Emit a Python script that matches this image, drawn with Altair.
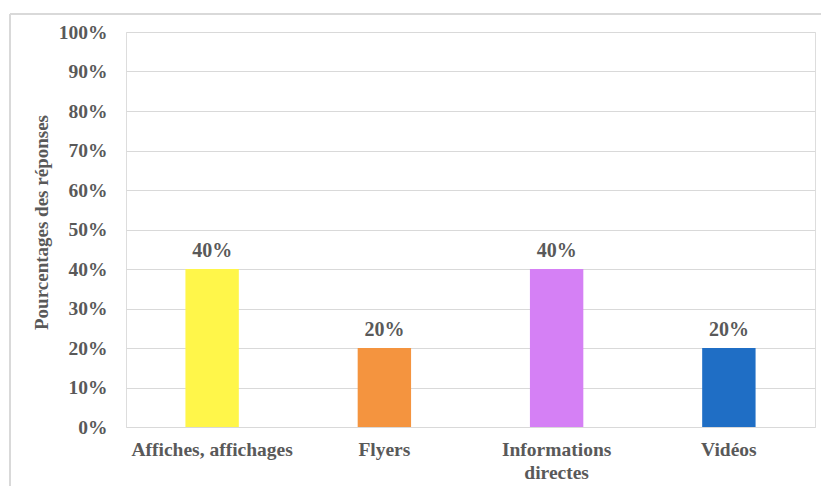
import altair as alt
import pandas as pd

categories = ["Affiches, affichages", "Flyers", "Informations\ndirectes", "Vidéos"]
values = [0.40, 0.20, 0.40, 0.20]
colors = ["#FFF64A", "#F4943F", "#D580F5", "#1F6EC5"]

df = pd.DataFrame({"cat": categories, "val": values, "col": colors})

FONT = "Liberation Serif"
GRAY = "#595959"

x = alt.X("cat:N", sort=categories, title=None,
          scale=alt.Scale(paddingInner=0.69, paddingOuter=0.345),
          axis=alt.Axis(labelAngle=0, labelFont=FONT, labelFontSize=19.5, labelFontWeight="bold",
                        labelColor=GRAY, labelPadding=13, ticks=False, domain=False,
                        labelExpr="split(datum.label, '\\n')", labelLineHeight=23))
y = alt.Y("val:Q", title="Pourcentages des réponses",
          scale=alt.Scale(domain=[0, 1]),
          axis=alt.Axis(format=".0%", values=[i / 10 for i in range(11)],
                        labelFont=FONT, labelFontSize=19.5, labelFontWeight="bold",
                        labelColor=GRAY, labelPadding=19, ticks=False, domain=False,
                        gridColor="#D9D9D9", gridWidth=1,
                        titleFont=FONT, titleFontSize=19, titleFontWeight="bold",
                        titleColor=GRAY, titleX=-75, titleY=190))

bars = alt.Chart(df).mark_bar().encode(x=x, y=y, color=alt.Color("col:N", scale=None))
labels = alt.Chart(df).mark_text(dy=-18, font=FONT, fontSize=20, fontWeight="bold",
                                 color=GRAY).encode(x=x, y=y, text=alt.Text("val:Q", format=".0%"))

frame_top = alt.Chart(df).mark_rule(color="#D9D9D9", strokeWidth=1.5).encode(
    x=alt.value(-116), x2=alt.value(720), y=alt.value(-18))
frame_left = alt.Chart(df).mark_rule(color="#D9D9D9", strokeWidth=1.5).encode(
    x=alt.value(-116), y=alt.value(-18), y2=alt.value(480))

chart = alt.layer(frame_top, frame_left, bars, labels).properties(
    width=689, height=395,
    autosize=alt.AutoSizeParams(type="none"),
    padding={"left": 126, "top": 32, "right": 6, "bottom": 59},
).configure_view(stroke=None).configure(background="white")

chart.save("out.html", embed_options={"renderer": "svg", "actions": False})
